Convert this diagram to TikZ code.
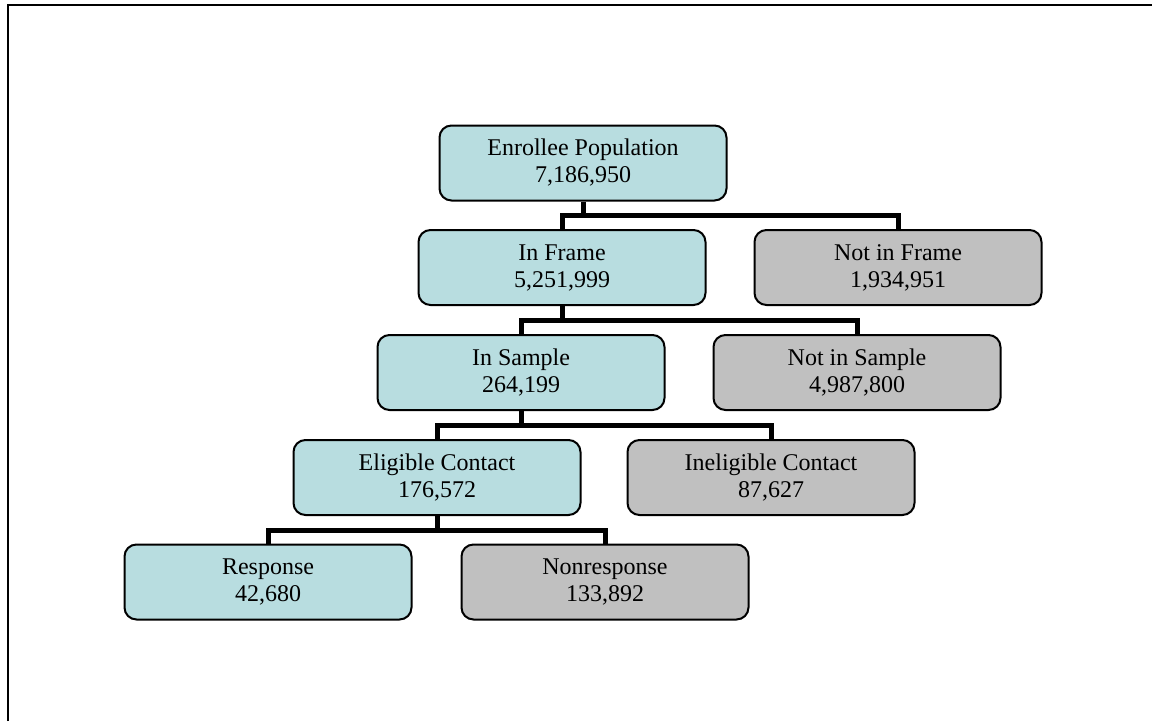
\documentclass[tikz,border=0pt]{standalone}
\usepackage{fontspec}
\setmainfont{Liberation Serif}
\definecolor{boxblue}{RGB}{184,221,224}
\definecolor{boxgray}{RGB}{192,192,192}
\begin{document}
\begin{tikzpicture}[x=1pt,y=-1pt,
  box/.style={draw=black, line width=2pt, rounded corners=12pt, minimum width=287pt, minimum height=75pt,
     inner sep=0pt, align=center, font=\fontsize{24}{27}\selectfont},
  bluebox/.style={box, fill=boxblue},
  graybox/.style={box, fill=boxgray},
  conn/.style={line width=5pt}]
\useasboundingbox (0,0) rectangle (1152,721);
\draw[line width=2pt] (7.5,721) -- (7.5,4.5) -- (1152,4.5);

\node[bluebox] (ep)  at (583,163)   {Enrollee Population\\7,186,950};
\node[bluebox] (inf) at (562,267.5) {In Frame\\5,251,999};
\node[graybox] (nif) at (898,267.5) {Not in Frame\\1,934,951};
\node[bluebox] (ins) at (521,372.5) {In Sample\\264,199};
\node[graybox] (nis) at (857,372.5) {Not in Sample\\4,987,800};
\node[bluebox] (ec)  at (437,477.5) {Eligible Contact\\176,572};
\node[graybox] (ic)  at (771,477.5) {Ineligible Contact\\87,627};
\node[bluebox] (rs)  at (268,582)   {Response\\42,680};
\node[graybox] (nr)  at (605,582)   {Nonresponse\\133,892};

\coordinate (b1) at (0,215);
\coordinate (b2) at (0,320);
\coordinate (b3) at (0,425);
\coordinate (b4) at (0,530);

\draw[conn] (ep.south) -- (ep.south |- b1);
\draw[conn] (inf.north) |- (nif.north |- b1) -- (nif.north);
\draw[conn] (inf.south) -- (inf.south |- b2);
\draw[conn] (ins.north) |- (nis.north |- b2) -- (nis.north);
\draw[conn] (ins.south) -- (ins.south |- b3);
\draw[conn] (ec.north) |- (ic.north |- b3) -- (ic.north);
\draw[conn] (ec.south) -- (ec.south |- b4);
\draw[conn] (rs.north) |- (nr.north |- b4) -- (nr.north);
\end{tikzpicture}
\end{document}
